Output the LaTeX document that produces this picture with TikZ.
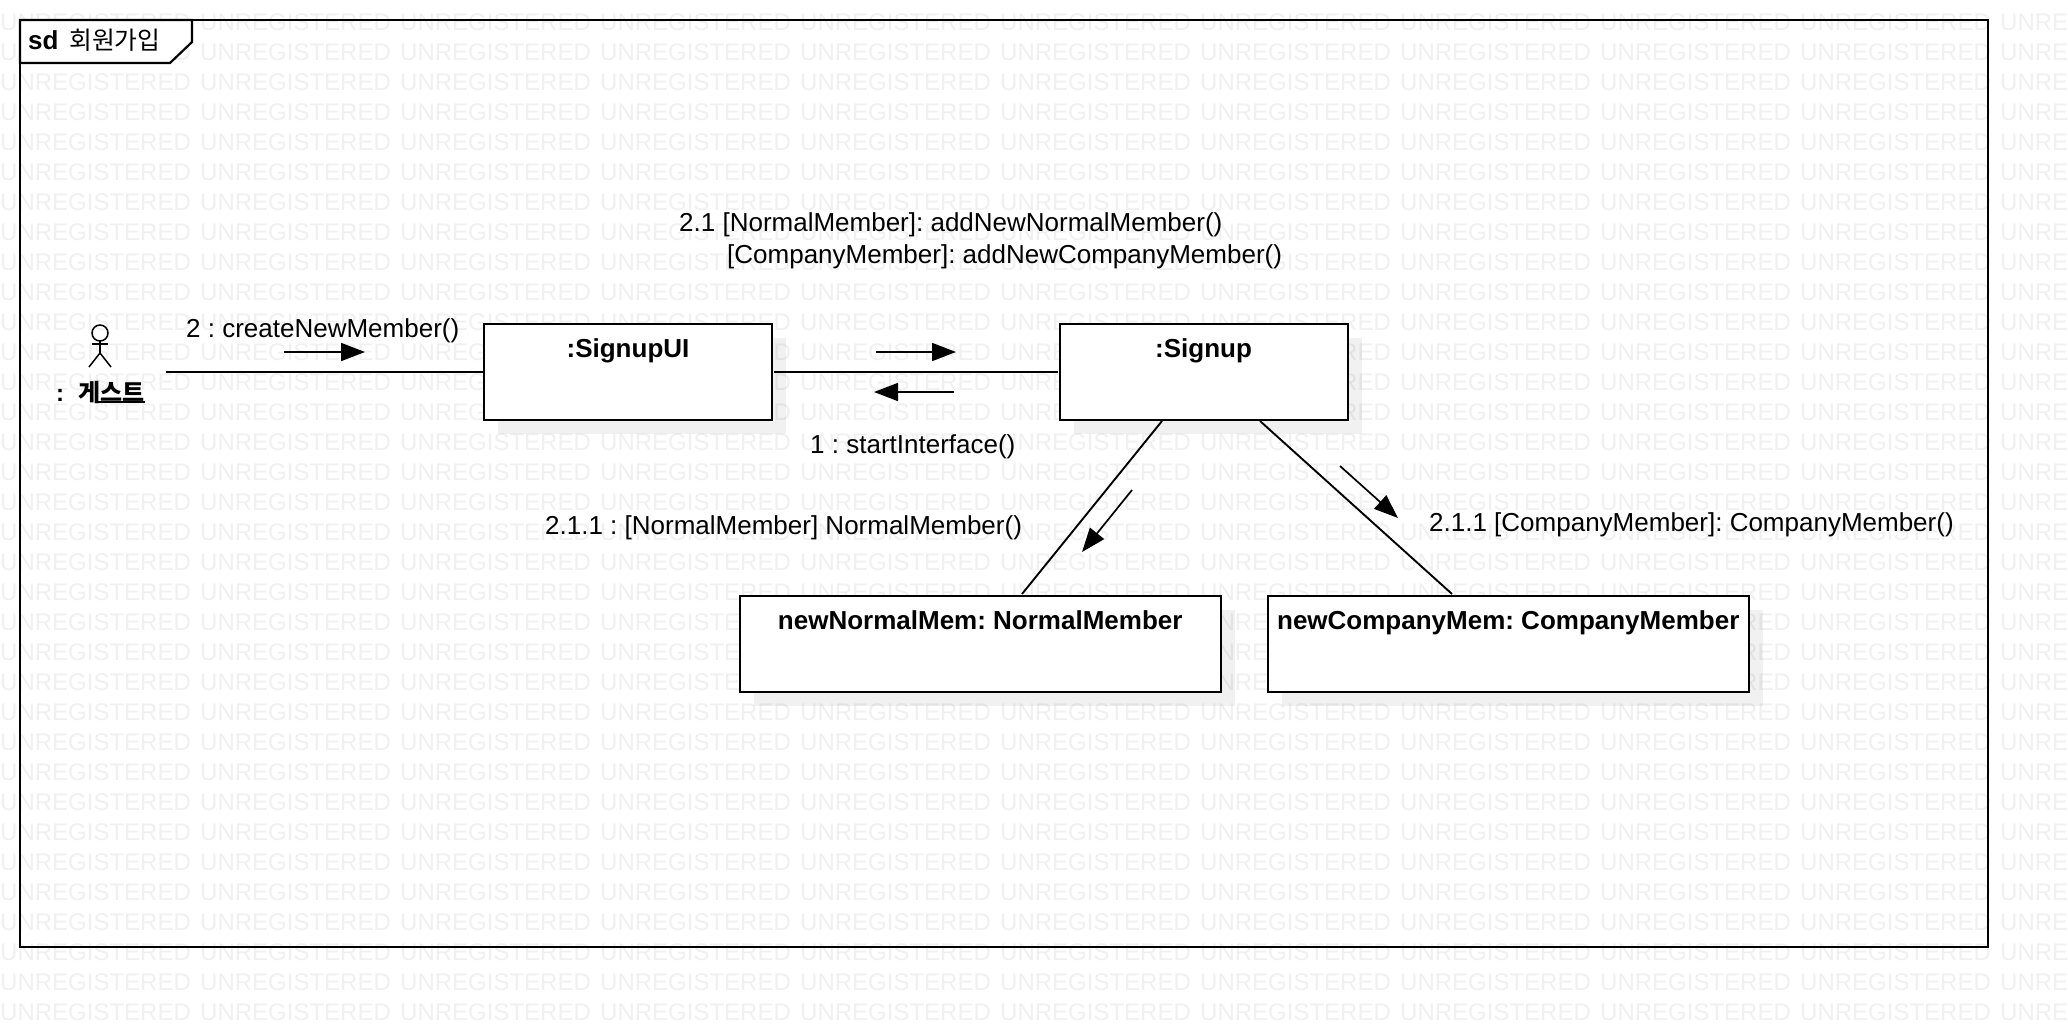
\documentclass[tikz,border=0pt]{standalone}
\usepackage{fontspec}
\setmainfont{Liberation Sans}
\newfontfamily\cjk{Noto Sans CJK KR}
\usetikzlibrary{arrows.meta,shadows}
\definecolor{wm}{HTML}{F0F0F0}
\AtBeginDocument{\frenchspacing}
\tikzset{
  wmark/.style={anchor=base west,inner sep=0pt,text=wm,font=\fontsize{24}{24}\selectfont},
  msg/.style={anchor=base west,inner sep=0pt,font=\fontsize{26}{26}\selectfont},
  objbox/.style={draw=black,line width=2pt,fill=white,inner xsep=0pt,inner ysep=0pt,outer sep=0pt,
    minimum height=96pt,text height=33pt,text depth=63pt,anchor=north west,
    font=\fontsize{26}{26}\selectfont\bfseries,
    drop shadow={shadow xshift=14pt,shadow yshift=-14pt,fill=black,opacity=.055}},
  link/.style={draw=black,line width=1.9pt},
  flow/.style={draw=black,line width=1.7pt,-{Triangle[length=24pt,width=18pt]}},
  stick/.style={draw=black,line width=1.5pt}
}
\begin{document}
\begin{tikzpicture}[x=1pt,y=-1pt]
\useasboundingbox (0,0) rectangle (2068,1028);
\fill[white] (0,0) rectangle (2068,1028);
% watermark
\begin{scope}
\clip (0,0) rectangle (2068,1028);
\foreach \r in {0,...,33}{
  \foreach \c in {0,...,10}{
    \node[wmark] (wm-\r-\c) at (\c*200,30+\r*30) {UNREGISTERED};
  }
}
\end{scope}
% frame
\draw[line width=2.2pt] (20,20) rectangle (1988,947);
\draw[line width=2.2pt,fill=white] (20,20) -- (192,20) -- (192,42) -- (170,63) -- (20,63) -- cycle;
\node[msg,font=\fontsize{26}{26}\selectfont\bfseries] (sd) at (28,49) {sd};
\node[msg,font=\fontsize{24.8}{25}\selectfont\cjk] (sdname) at (69,49) {회원가입};
% actor
\draw[stick] (100,333) circle (8);
\draw[stick] (100,341) -- (100,353);
\draw[stick] (92,344) -- (108,344);
\draw[stick] (89,367) -- (100,353) -- (111,367);
\node[msg,font=\fontsize{24}{24}\selectfont\bfseries] (guestcolon) at (56,401) {:};
\node[msg,font=\fontsize{24}{24}\selectfont\bfseries\cjk] (guest) at (78.5,401) {게스트};
\draw[line width=1.5pt] (98,402) -- (144.5,402);
% objects
\node[objbox,minimum width=288pt] (ui) at (484,324) {:SignupUI};
\node[objbox,minimum width=288pt] (sig) at (1059.5,324) {:Signup};
\node[objbox,minimum width=480.5pt] (norm) at (740,596) {newNormalMem: NormalMember};
\node[objbox,minimum width=480.5pt] (comp) at (1268,596) {newCompanyMem: CompanyMember};
% connectors
\coordinate (actorend) at (166,372);
\draw[link] (actorend) -- (ui.west);
\draw[link,shorten >=2pt,shorten <=2pt] (ui.east) -- (sig.west);
\draw[link] ([xshift=102.5pt,yshift=-1pt]sig.south west) -- ([xshift=282pt,yshift=2pt]norm.north west);
\draw[link] ([xshift=200.5pt,yshift=-1pt]sig.south west) -- ([xshift=184pt,yshift=2pt]comp.north west);
% message arrows
\coordinate (a1s) at (284,352); \coordinate (a1e) at (365,352);
\coordinate (a2s) at (876,352); \coordinate (a2e) at (956,352);
\coordinate (a3s) at (954,392); \coordinate (a3e) at (874,392);
\coordinate (a4s) at (1132,490); \coordinate (a4e) at (1082,552);
\coordinate (a5s) at (1340,466); \coordinate (a5e) at (1398,518);
\draw[flow] (a1s) -- (a1e);
\draw[flow] (a2s) -- (a2e);
\draw[flow] (a3s) -- (a3e);
\draw[flow] (a4s) -- (a4e);
\draw[flow] (a5s) -- (a5e);
% messages
\node[msg] (m2) at (186,337) {2 : createNewMember()};
\node[msg] (m21a) at (679,231) {2.1 [NormalMember]: addNewNormalMember()};
\node[msg] (m21b) at (727,263) {[CompanyMember]: addNewCompanyMember()};
\node[msg] (m1) at (810,453) {1 : startInterface()};
\node[msg] (m211a) at (545,534) {2.1.1 : [NormalMember] NormalMember()};
\node[msg] (m211b) at (1429,531) {2.1.1 [CompanyMember]: CompanyMember()};
\end{tikzpicture}
\end{document}
